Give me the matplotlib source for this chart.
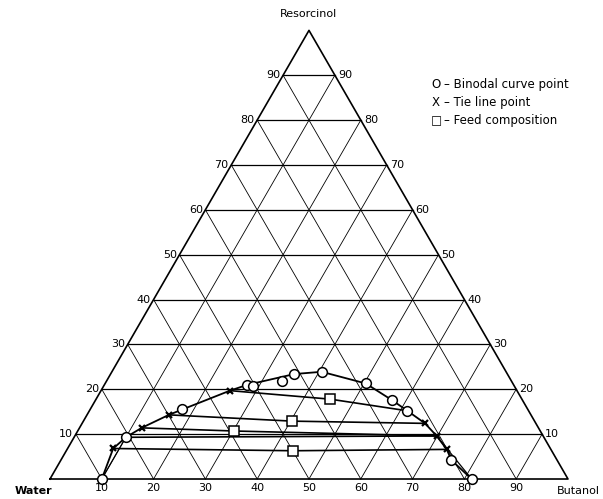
import matplotlib.pyplot as plt
import numpy as np

# compositions, (butanol %, resorcinol %)
binodal_B = [10.0, 10.0, 17.8, 27.6, 28.8, 33.8, 35.5, 40.5, 50.3, 57.2, 61.4, 75.4, 81.4]
binodal_R = [0.0, 9.3, 15.5, 21.0, 20.7, 21.9, 23.4, 23.9, 21.3, 17.6, 15.2, 4.2, 0.0]

curve_B = [10.0, 8.8, 10.0, 12.0, 15.8, 17.8, 24.9, 27.6, 35.5, 40.5, 50.3, 57.2, 61.4, 66.2, 69.85, 73.3, 75.4, 81.4]
curve_R = [0.0, 6.8, 9.3, 11.4, 14.3, 15.5, 19.7, 21.0, 23.4, 23.9, 21.3, 17.6, 15.2, 12.4, 9.6, 6.6, 4.2, 0.0]

tie_B = [8.8, 12.0, 15.8, 24.9, 66.2, 69.85, 73.3]
tie_R = [6.8, 11.4, 14.3, 19.7, 12.4, 9.6, 6.6]

# tie lines: left end, feed, right end
tie_lines = [
    [(24.9, 19.7), (45.2, 17.8), (61.4, 15.2)],
    [(15.8, 14.3), (40.3, 12.9), (66.2, 12.4)],
    [(12.0, 11.4), (30.2, 10.7), (69.85, 9.6)],
    [(10.0, 9.3), (69.85, 9.6)],
    [(8.8, 6.8), (43.8, 6.3), (73.3, 6.6)],
]
feed_B = [45.2, 40.3, 30.2, 43.8]
feed_R = [17.8, 12.9, 10.7, 6.3]

ticks = [10, 20, 30, 40, 50, 60, 70, 80, 90]
h = np.sqrt(3) / 2


def xy(B, R):
    B = np.asarray(B, dtype=float)
    R = np.asarray(R, dtype=float)
    return B + R / 2, R * h


fig = plt.figure(figsize=(6.03, 4.99), dpi=100)
ax = fig.add_axes([0, 0, 1, 1])
ax.set_xlim(-9.65, 106.76)
ax.set_ylim(-3.86, 92.47)
ax.axis('off')

# grid
for t in ticks:
    x, y = xy([0, 100 - t], [t, t])
    ax.plot(x, y, color='black', lw=0.9)
    x, y = xy([t, t], [0, 100 - t])
    ax.plot(x, y, color='black', lw=0.6)
    x, y = xy([t, 0], [0, t])
    ax.plot(x, y, color='black', lw=0.6)

x, y = xy([0, 100, 0, 0], [0, 0, 100, 0])
ax.plot(x, y, color='black', lw=1.2)

fs = 8
for t in ticks:
    x, y = xy(0, t)
    ax.text(x - 0.5, y, str(t), ha='right', va='center', fontsize=fs)
    x, y = xy(100 - t, t)
    ax.text(x + 0.6, y, str(t), ha='left', va='center', fontsize=fs)
    x, y = xy(t, 0)
    ax.text(x, y - 0.8, str(t), ha='center', va='top', fontsize=fs)

x, y = xy(0, 100)
ax.text(x, y + 2.2, 'Resorcinol', ha='center', va='bottom', fontsize=fs)
ax.text((15 - 50) / 5.18, -2.4, 'Water', ha='left', va='center', fontsize=fs, fontweight='bold')
ax.text((600 - 50) / 5.18, -2.4, 'Butanol', ha='right', va='center', fontsize=fs)

# curve and tie lines
x, y = xy(curve_B, curve_R)
ax.plot(x, y, color='black', lw=1.3)
x, y = xy([10.0, 10.0], [0.0, 9.3])
ax.plot(x, y, color='black', lw=0.9)
x, y = xy([69.85, 81.4], [9.6, 0.0])
ax.plot(x, y, color='black', lw=0.9)
for tl in tie_lines:
    b, r = zip(*tl)
    x, y = xy(b, r)
    ax.plot(x, y, color='black', lw=1.2)

x, y = xy(binodal_B, binodal_R)
ax.plot(x, y, 'o', ms=7, mfc='white', mec='black', mew=1.1)
x, y = xy(tie_B, tie_R)
ax.plot(x, y, 'x', ms=4.5, color='black', mew=1.6)
x, y = xy(feed_B, feed_R)
ax.plot(x, y, 's', ms=6.5, mfc='white', mec='black', mew=1.1)

# legend text
lx = (436 - 50) / 5.18
for i, (m, txt) in enumerate([('O', 'Binodal curve point'), ('X', 'Tie line point'),
                              ('\u25a1', 'Feed composition')]):
    ly = (479 - (85 + 18 * i)) / 5.18
    ax.text(lx, ly, m, ha='center', va='center', fontsize=8.5)
    ax.text(lx + 1.6, ly, '\u2013 ' + txt, ha='left', va='center', fontsize=8.5)

fig.savefig('out.png', dpi=100)
